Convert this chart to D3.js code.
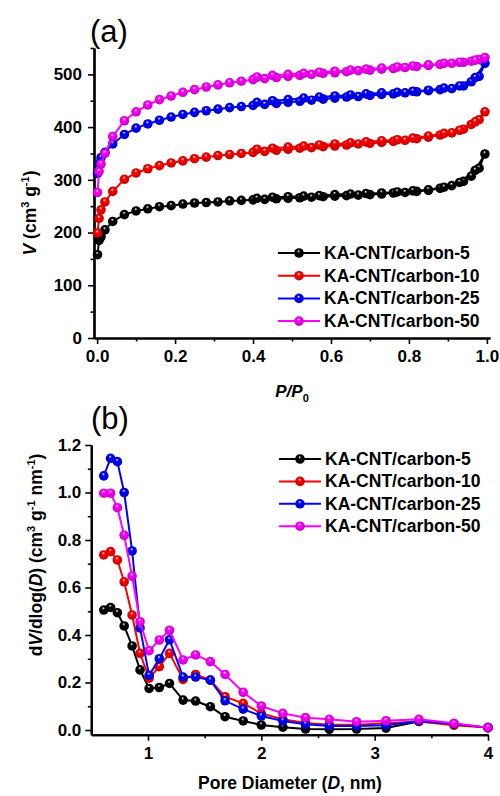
<!DOCTYPE html>
<html>
<head>
<meta charset="utf-8">
<script src="https://cdn.jsdelivr.net/npm/d3@7/dist/d3.min.js"></script>
<style>
    body { margin: 0; background: #fff; }
    svg text { font-family: "Liberation Sans", Arial, sans-serif; font-weight: bold; fill: #000; }
</style>
</head>
<body>
<svg id="chart" width="500" height="796"></svg>
<script>
/*global d3*/
"use strict";

// series shared by both panels
var names  = ["KA-CNT/carbon-5", "KA-CNT/carbon-10", "KA-CNT/carbon-25", "KA-CNT/carbon-50"],
    colors = ["#000000", "#ff0000", "#0000ff", "#ff00ff"];

// (a) N2 isotherms: relative pressure, adsorption then desorption branch
var pAds = [0.001, 0.005, 0.01, 0.02, 0.04, 0.07, 0.10, 0.13, 0.16, 0.19, 0.22, 0.25, 0.28, 0.31, 0.34, 0.37, 0.40,
            0.43, 0.46, 0.49, 0.52, 0.55, 0.58, 0.61, 0.64, 0.67, 0.70, 0.73, 0.76, 0.79, 0.82, 0.85, 0.88, 0.91,
            0.94, 0.96, 0.98, 0.995];
var pDes = [0.97, 0.93, 0.89, 0.85, 0.81, 0.77, 0.73, 0.69, 0.65, 0.61, 0.57, 0.53, 0.49, 0.45, 0.41];

var adsC5  = [158, 185, 192, 205, 221, 234, 241, 245, 249, 251, 254, 256, 257, 258, 260, 261, 262, 263, 264,
              265, 266, 267, 268, 269, 270, 271, 272, 273, 275, 276, 278, 280, 284, 289, 297, 307, 322, 349];
var adsC10 = [199, 227, 243, 258, 278, 301, 313, 321, 327, 332, 336, 340, 343, 346, 348, 350, 352, 354, 356,
              358, 360, 361, 363, 364, 366, 368, 369, 371, 373, 375, 378, 381, 385, 389, 396, 405, 414, 429];
var adsC25 = [312, 331, 342, 352, 368, 386, 398, 406, 413, 419, 424, 428, 431, 434, 437, 439, 441, 443, 445,
              447, 449, 451, 453, 455, 457, 458, 460, 462, 463, 465, 467, 469, 471, 473, 478, 486, 496, 521];
var adsC50 = [276, 316, 330, 350, 382, 412, 429, 442, 452, 459, 466, 471, 476, 480, 484, 487, 490, 492, 494,
              496, 498, 500, 502, 503, 505, 507, 508, 510, 511, 513, 515, 517, 519, 521, 523, 525, 528, 532];

var desC5  = [318, 295, 286, 281, 279, 277, 275, 274, 273, 272, 270, 269, 268, 267, 265];
var desC10 = [410, 394, 388, 383, 379, 376, 374, 372, 370, 368, 366, 364, 362, 360, 358];
var desC25 = [494, 478, 474, 470, 468, 466, 465, 463, 461, 459, 457, 455, 452, 450, 447];
var desC50 = [527, 523, 521, 518, 516, 514, 512, 510, 508, 506, 504, 502, 500, 498, 495];

// (b) pore size distribution
var poreD = [0.61, 0.67, 0.73, 0.79, 0.86, 0.93, 1.01, 1.10, 1.19, 1.31, 1.42, 1.55, 1.68, 1.84, 2.00, 2.19,
             2.39, 2.60, 2.84, 3.10, 3.39, 3.70, 4.00];
var psdC5  = [0.505, 0.516, 0.494, 0.438, 0.354, 0.253, 0.175, 0.179, 0.196, 0.126, 0.122, 0.098, 0.056, 0.038,
              0.021, 0.012, 0.004, 0.003, 0.004, 0.008, 0.036, 0.025, 0.010];
var psdC10 = [0.737, 0.751, 0.716, 0.624, 0.484, 0.323, 0.218, 0.267, 0.323, 0.213, 0.234, 0.210, 0.140, 0.112,
              0.070, 0.045, 0.030, 0.022, 0.022, 0.028, 0.036, 0.020, 0.010];
var psdC25 = [1.070, 1.144, 1.130, 1.000, 0.754, 0.430, 0.230, 0.300, 0.380, 0.223, 0.223, 0.210, 0.123, 0.088,
              0.059, 0.038, 0.024, 0.017, 0.017, 0.020, 0.038, 0.025, 0.010];
var psdC50 = [0.997, 0.997, 0.936, 0.820, 0.648, 0.456, 0.334, 0.379, 0.420, 0.295, 0.316, 0.288, 0.234, 0.159,
              0.101, 0.070, 0.052, 0.045, 0.035, 0.039, 0.045, 0.028, 0.010];

// tick values
var isoTicksX = [0, 0.2, 0.4, 0.6, 0.8, 1.0],
    isoMinorX = [0.1, 0.3, 0.5, 0.7, 0.9],
    isoTicksY = [0, 100, 200, 300, 400, 500],
    isoMinorY = [50, 150, 250, 350, 450, 550],
    psdTicksX = [1, 2, 3, 4],
    psdMinorX = [1.5, 2.5, 3.5],
    psdTicksY = [0, 0.2, 0.4, 0.6, 0.8, 1.0, 1.2],
    psdMinorY = [0.1, 0.3, 0.5, 0.7, 0.9, 1.1];

var svg = d3.select("#chart");
var R = 4.8;

// shaded ball markers
var defs = svg.append("defs");
colors.forEach(function (c, i) {
    var g = defs.append("radialGradient")
        .attr("id", "ball" + i)
        .attr("cx", "50%").attr("cy", "50%").attr("r", "55%")
        .attr("fx", "45%").attr("fy", "28%");
    g.append("stop").attr("offset", "0%").attr("stop-color", "#ffffff");
    g.append("stop").attr("offset", "30%").attr("stop-color", c);
    g.append("stop").attr("offset", "100%").attr("stop-color", d3.color(c).darker(0.8));
});

function zip(xs, ys) {
    return xs.map(function (x, i) { return [x, ys[i]]; });
}

function drawAxes(x, y, ticksX, minorX, ticksY, minorY, fmtX, fmtY, padY) {
    var x0 = x.range()[0], y0 = y.range()[0];
    var gx = svg.append("g").attr("transform", "translate(0," + y0 + ")")
        .call(d3.axisBottom(x).tickValues(ticksX).tickFormat(fmtX).tickSize(6).tickSizeOuter(0).tickPadding(6));
    svg.append("g").attr("transform", "translate(0," + y0 + ")")
        .call(d3.axisBottom(x).tickValues(minorX).tickFormat("").tickSize(3.5).tickSizeOuter(0));
    var gy = svg.append("g").attr("transform", "translate(" + x0 + ",0)")
        .call(d3.axisLeft(y).tickValues(ticksY).tickFormat(fmtY).tickSize(6).tickSizeOuter(0).tickPadding(padY));
    svg.append("g").attr("transform", "translate(" + x0 + ",0)")
        .call(d3.axisLeft(y).tickValues(minorY).tickFormat("").tickSize(3.5).tickSizeOuter(0));
    svg.selectAll(".domain").attr("stroke-width", 2.2).attr("stroke", "#000");
    svg.selectAll(".tick line").attr("stroke-width", 1.6).attr("stroke", "#000");
    [gx, gy].forEach(function (g) {
        g.selectAll("text").style("font-size", "17px").attr("fill", "#000");
    });
}

function drawSeries(x, y, sets) {
    var line = d3.line().x(function (d) { return x(d[0]); }).y(function (d) { return y(d[1]); });
    sets.forEach(function (pts, i) {
        var g = svg.append("g");
        g.append("path").datum(pts)
            .attr("d", line)
            .attr("fill", "none")
            .attr("stroke", colors[i])
            .attr("stroke-width", 2);
        g.selectAll("circle").data(pts).enter().append("circle")
            .attr("cx", function (d) { return x(d[0]); })
            .attr("cy", function (d) { return y(d[1]); })
            .attr("r", R)
            .attr("fill", "url(#ball" + i + ")");
    });
}

function drawLegend(x0, y0, dy) {
    names.forEach(function (n, i) {
        var yy = y0 + i * dy;
        svg.append("line").attr("x1", x0).attr("x2", x0 + 42).attr("y1", yy).attr("y2", yy)
            .attr("stroke", colors[i]).attr("stroke-width", 2);
        svg.append("circle").attr("cx", x0 + 21).attr("cy", yy).attr("r", R)
            .attr("fill", "url(#ball" + i + ")");
        svg.append("text").attr("x", x0 + 46).attr("y", yy + 6)
            .style("font-size", "17.5px").text(n);
    });
}

// ---------- panel (a) ----------
var xA = d3.scaleLinear().domain([-0.008, 1.008]).range([94, 490]),
    yA = d3.scaleLinear().domain([0, 550]).range([338, 48]);

drawAxes(xA, yA, isoTicksX, isoMinorX, isoTicksY, isoMinorY, d3.format(".1f"), d3.format("d"), 6);
drawSeries(xA, yA, [
    zip(pAds, adsC5).concat(zip(pDes, desC5)),
    zip(pAds, adsC10).concat(zip(pDes, desC10)),
    zip(pAds, adsC25).concat(zip(pDes, desC25)),
    zip(pAds, adsC50).concat(zip(pDes, desC50))
]);
drawLegend(278, 253, 22.7);

svg.append("text").attr("x", 90).attr("y", 42).style("font-size", "31px").style("font-weight", "normal").text("(a)");

var xlA = svg.append("text").attr("x", 292).attr("y", 397).attr("text-anchor", "middle").style("font-size", "17px");
xlA.append("tspan").style("font-style", "italic").text("P/P");
xlA.append("tspan").attr("dy", 5).style("font-size", "11px").text("0");

var ylA = svg.append("text").attr("transform", "translate(36,213) rotate(-90)").attr("text-anchor", "middle")
    .style("font-size", "17.5px");
ylA.append("tspan").style("font-style", "italic").text("V");
ylA.append("tspan").text(" (cm");
ylA.append("tspan").attr("dy", -7).style("font-size", "11px").text("3");
ylA.append("tspan").attr("dy", 7).text(" g");
ylA.append("tspan").attr("dy", -7).style("font-size", "11px").text("-1");
ylA.append("tspan").attr("dy", 7).text(")");

// ---------- panel (b) ----------
var xB = d3.scaleLinear().domain([0.5, 4]).range([91.3, 488]),
    yB = d3.scaleLinear().domain([-0.02, 1.2]).range([734.75, 445]);

drawAxes(xB, yB, psdTicksX, psdMinorX, psdTicksY, psdMinorY, d3.format("d"), d3.format(".1f"), 4);
drawSeries(xB, yB, [
    zip(poreD, psdC5),
    zip(poreD, psdC10),
    zip(poreD, psdC25),
    zip(poreD, psdC50)
]);
drawLegend(279, 459, 22.4);

svg.append("text").attr("x", 91).attr("y", 429).style("font-size", "31px").style("font-weight", "normal").text("(b)");

var xlB = svg.append("text").attr("x", 290).attr("y", 789).attr("text-anchor", "middle").style("font-size", "17.5px");
xlB.append("tspan").text("Pore Diameter (");
xlB.append("tspan").style("font-style", "italic").text("D");
xlB.append("tspan").text(", nm)");

var ylB = svg.append("text").attr("transform", "translate(42,555) rotate(-90)").attr("text-anchor", "middle")
    .style("font-size", "17.5px");
ylB.append("tspan").text("d");
ylB.append("tspan").style("font-style", "italic").text("V");
ylB.append("tspan").text("/dlog(");
ylB.append("tspan").style("font-style", "italic").text("D");
ylB.append("tspan").text(") (cm");
ylB.append("tspan").attr("dy", -7).style("font-size", "11px").text("3");
ylB.append("tspan").attr("dy", 7).text(" g");
ylB.append("tspan").attr("dy", -7).style("font-size", "11px").text("-1");
ylB.append("tspan").attr("dy", 7).text(" nm");
ylB.append("tspan").attr("dy", -7).style("font-size", "11px").text("-1");
ylB.append("tspan").attr("dy", 7).text(")");
</script>
</body>
</html>
